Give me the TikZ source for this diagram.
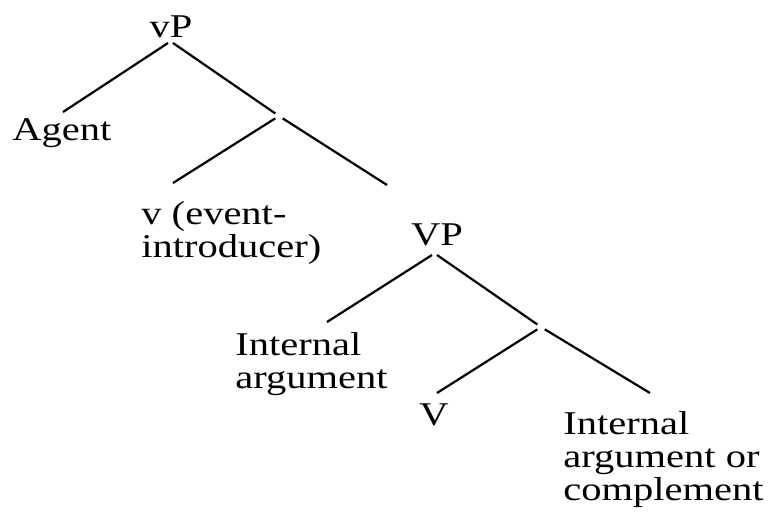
\documentclass[tikz,border=0pt]{standalone}
\usepackage{fontspec}
\setmainfont{Liberation Serif}[FakeStretch=1.22]
\usepackage{tikz}
\usetikzlibrary{calc}
\newcommand{\fonteArvore}{\fontsize{16.6}{16.5}\selectfont}
\tikzset{
  rotulo/.style={inner sep=0pt, align=left, font=\fonteArvore},
  ramo/.style={line width=1.1pt, black},
  juncao/.style={circle, inner sep=0pt, minimum size=4pt},
}

\begin{document}
\begin{tikzpicture}[x=0.5pt, y=-0.5pt]
  \useasboundingbox (0,0) rectangle (770,511);
  % rotulos (base = ultima linha)
  \node[rotulo, anchor=base] (vP) at (171,37) {vP};
  \node[rotulo, anchor=base west] (agente) at (12,140) {Agent};
  \node[juncao] (j1) at (279,116) {};
  \node[rotulo, anchor=base west] (vEvento) at (141,257) {v (event-\\introducer)};
  \node[rotulo, anchor=base] (VP) at (437,245) {VP};
  \node[rotulo, anchor=base west] (intA) at (235,388) {Internal\\argument};
  \node[juncao] (j2) at (541,327) {};
  \node[rotulo, anchor=base] (V) at (434,425) {V};
  \node[rotulo, anchor=base west] (intB) at (563,500) {Internal\\argument or\\complement};
  % ramos
  \draw[ramo] ($(vP.base)+(-3,6)$) -- ($(agente.base west)+(51,-28)$);
  \draw[ramo] ($(vP.base)+(2,6)$) -- (j1);
  \draw[ramo] (j1) -- ($(vEvento.base west)+(32,-74)$);
  \draw[ramo] (j1) -- ($(VP.base)+(-50,-60)$);
  \draw[ramo] ($(VP.base)+(-5,10)$) -- ($(intA.base west)+(92,-66)$);
  \draw[ramo] ($(VP.base)+(0,10)$) -- (j2);
  \draw[ramo] (j2) -- ($(V.base)+(3,-32)$);
  \draw[ramo] (j2) -- ($(intB.base west)+(87,-107)$);
\end{tikzpicture}
\end{document}
